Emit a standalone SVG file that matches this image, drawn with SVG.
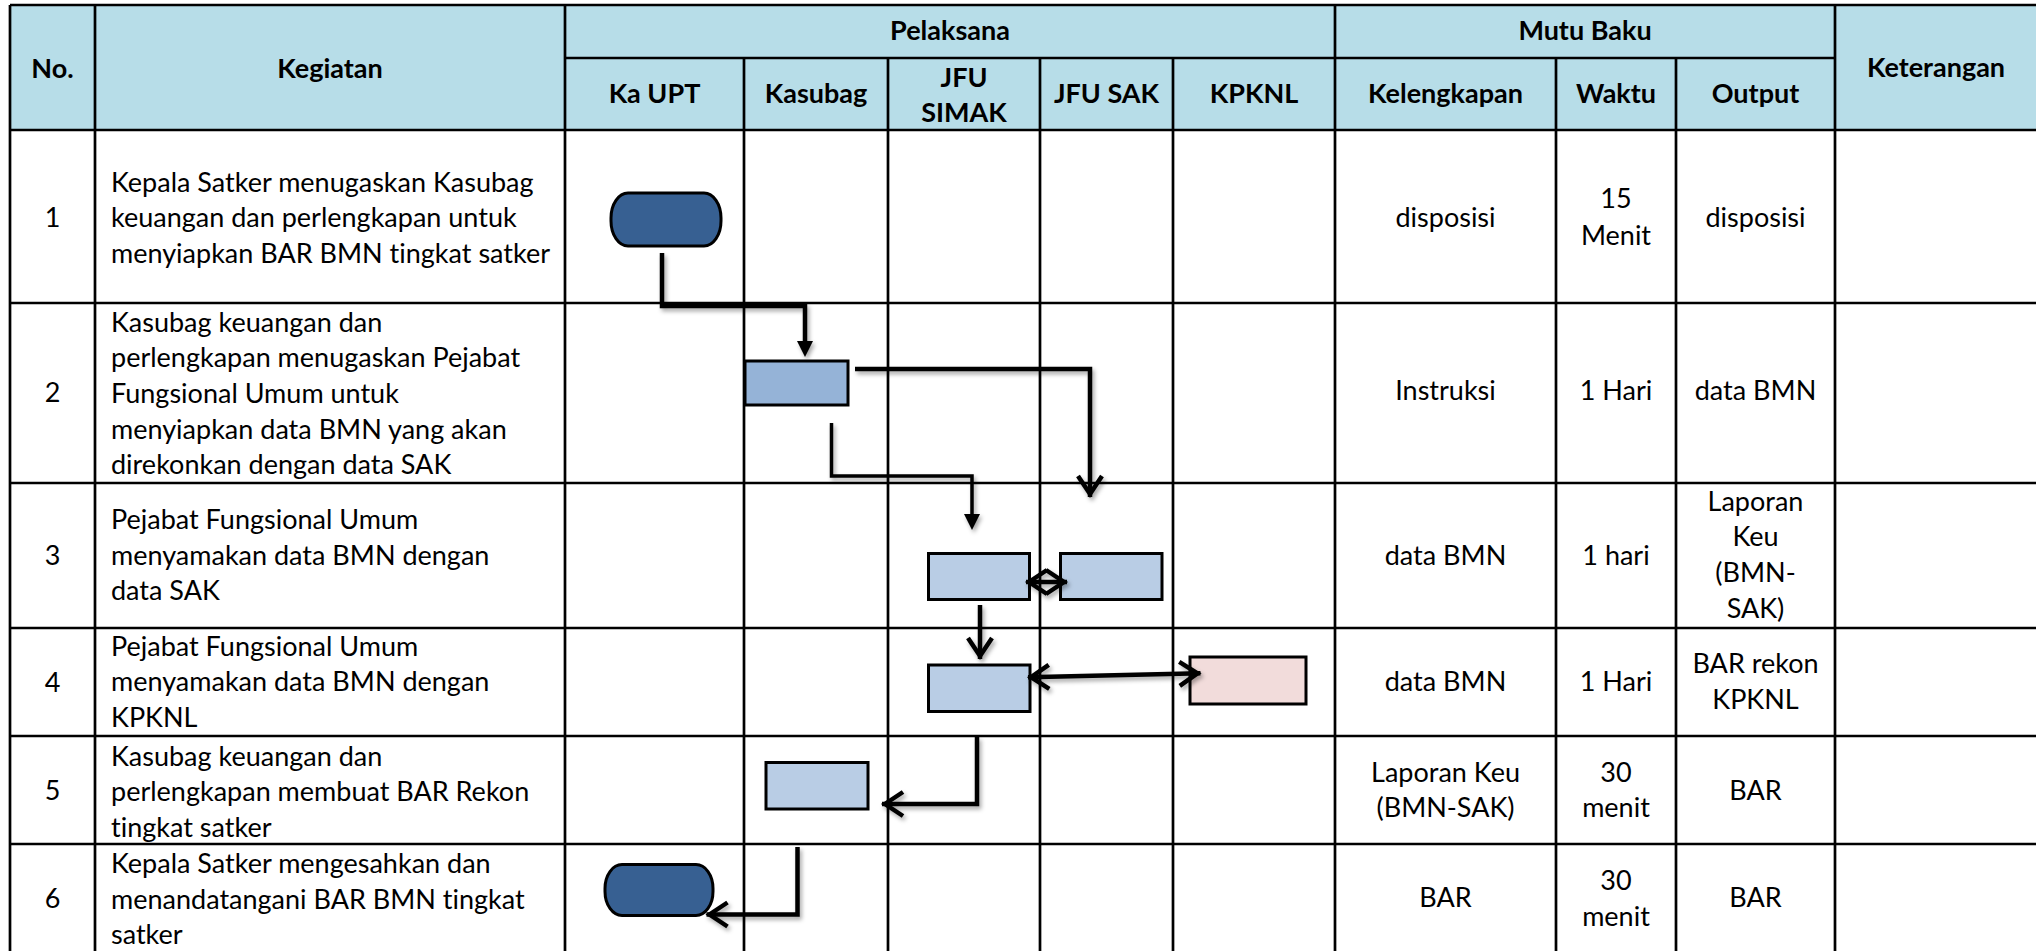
<svg xmlns="http://www.w3.org/2000/svg" width="2036" height="951" viewBox="0 0 2036 951">
  <style>
    text { font-family: Lato, "Open Sans", "Liberation Sans", sans-serif; font-size: 27px; fill: #000; font-variant-ligatures: none; font-feature-settings: "liga" 0; }
    .hd { font-weight: bold; text-anchor: middle; }
    .c { text-anchor: middle; }
    .grid { stroke: #000; stroke-width: 2.7; fill: none; }
    .term { fill: #376092; stroke: #000; stroke-width: 3; }
    .proc { fill: #B9CDE5; stroke: #000; stroke-width: 3; }
    .proc-mid { fill: #95B3D7; stroke: #000; stroke-width: 3; }
    .proc-ext { fill: #F2DCDB; stroke: #000; stroke-width: 3; }
    .conn { fill: none; stroke: #000; stroke-width: 4.5; stroke-linejoin: miter; }
    .conn-thin { fill: none; stroke: #000; stroke-width: 3.5; stroke-linejoin: miter; }
  </style>
  <defs>
    <marker id="solid" markerUnits="userSpaceOnUse" viewBox="-8 -8 16 16" markerWidth="16" markerHeight="16" refX="0" refY="0" orient="auto" overflow="visible">
      <path d="M-8,-8 L8,0 L-8,8 z" fill="#000"/>
    </marker>
    <marker id="open" markerUnits="userSpaceOnUse" viewBox="-24 -15 26 30" markerWidth="26" markerHeight="30" refX="0" refY="0" orient="auto-start-reverse" overflow="visible">
      <path d="M-21,-12 L-3,0 L-21,12" fill="none" stroke="#000" stroke-width="4.5"/>
    </marker>
    <filter id="shadow" filterUnits="userSpaceOnUse" x="0" y="0" width="2036" height="951">
      <feDropShadow dx="2" dy="3" stdDeviation="2" flood-color="#000" flood-opacity="0.35"/>
    </filter>
  </defs>

  <rect width="2036" height="951" fill="#fff"/>

  <!-- table header band -->
  <rect x="10" y="5" width="2030" height="125" fill="#B7DDE8"/>

  <!-- grid lines -->
  <g id="grid" class="grid">
    <path d="M10,5 H2040 M565,58 H1835 M10,130 H2040 M10,303 H2040 M10,483 H2040 M10,628 H2040 M10,736 H2040 M10,844 H2040"/>
    <path d="M10,5 V951 M95,5 V951 M565,5 V951 M1335,5 V951 M1835,5 V951"/>
    <path d="M744,58 V951 M888,58 V951 M1040,58 V951 M1173,58 V951 M1556,58 V951 M1676,58 V951"/>
  </g>

  <!-- header labels -->
  <g id="header">
    <text class="hd" x="52.5" y="78">No.</text>
    <text class="hd" x="330" y="78">Kegiatan</text>
    <text class="hd" x="950" y="40">Pelaksana</text>
    <text class="hd" x="1585" y="40">Mutu Baku</text>
    <text class="hd" x="1936" y="77">Keterangan</text>
    <text class="hd" x="654.5" y="103">Ka UPT</text>
    <text class="hd" x="816" y="103">Kasubag</text>
    <text class="hd" x="964" y="87">JFU</text>
    <text class="hd" x="964" y="122">SIMAK</text>
    <text class="hd" x="1106.5" y="103">JFU SAK</text>
    <text class="hd" x="1254" y="103">KPKNL</text>
    <text class="hd" x="1445.5" y="103">Kelengkapan</text>
    <text class="hd" x="1616" y="103">Waktu</text>
    <text class="hd" x="1755.5" y="103">Output</text>
  </g>

  <!-- step 1 -->
  <g id="row1">
    <text class="c" x="52.5" y="227">1</text>
    <text x="111" y="191.7">Kepala Satker menugaskan Kasubag</text>
    <text x="111" y="227.3">keuangan dan perlengkapan untuk</text>
    <text x="111" y="262.9">menyiapkan BAR BMN tingkat satker</text>
    <text class="c" x="1445.5" y="227">disposisi</text>
    <text class="c" x="1616" y="208.3">15</text>
    <text class="c" x="1616" y="245">Menit</text>
    <text class="c" x="1755.5" y="227">disposisi</text>
  </g>

  <!-- step 2 -->
  <g id="row2">
    <text class="c" x="52.5" y="401.7">2</text>
    <text x="111" y="331.7">Kasubag keuangan dan</text>
    <text x="111" y="367.3">perlengkapan menugaskan Pejabat</text>
    <text x="111" y="402.9">Fungsional Umum untuk</text>
    <text x="111" y="438.5">menyiapkan data BMN yang akan</text>
    <text x="111" y="474.1">direkonkan dengan data SAK</text>
    <text class="c" x="1445.5" y="400">Instruksi</text>
    <text class="c" x="1616" y="400">1 Hari</text>
    <text class="c" x="1755.5" y="400">data BMN</text>
  </g>

  <!-- step 3 -->
  <g id="row3">
    <text class="c" x="52.5" y="565">3</text>
    <text x="111" y="529">Pejabat Fungsional Umum</text>
    <text x="111" y="564.6">menyamakan data BMN dengan</text>
    <text x="111" y="600.2">data SAK</text>
    <text class="c" x="1445.5" y="565">data BMN</text>
    <text class="c" x="1616" y="565">1 hari</text>
    <text class="c" x="1755.5" y="510.7">Laporan</text>
    <text class="c" x="1755.5" y="546.3">Keu</text>
    <text class="c" x="1755.5" y="581.9">(BMN-</text>
    <text class="c" x="1755.5" y="617.5">SAK)</text>
  </g>

  <!-- step 4 -->
  <g id="row4">
    <text class="c" x="52.5" y="691.7">4</text>
    <text x="111" y="655.7">Pejabat Fungsional Umum</text>
    <text x="111" y="691.3">menyamakan data BMN dengan</text>
    <text x="111" y="726.9">KPKNL</text>
    <text class="c" x="1445.5" y="690.7">data BMN</text>
    <text class="c" x="1616" y="690.7">1 Hari</text>
    <text class="c" x="1755.5" y="673.3">BAR rekon</text>
    <text class="c" x="1755.5" y="708.9">KPKNL</text>
  </g>

  <!-- step 5 -->
  <g id="row5">
    <text class="c" x="52.5" y="800">5</text>
    <text x="111" y="765.5">Kasubag keuangan dan</text>
    <text x="111" y="801.1">perlengkapan membuat BAR Rekon</text>
    <text x="111" y="836.7">tingkat satker</text>
    <text class="c" x="1445.5" y="781.7">Laporan Keu</text>
    <text class="c" x="1445.5" y="817.3">(BMN-SAK)</text>
    <text class="c" x="1616" y="781.7">30</text>
    <text class="c" x="1616" y="817.3">menit</text>
    <text class="c" x="1755.5" y="799.5">BAR</text>
  </g>

  <!-- step 6 -->
  <g id="row6">
    <text class="c" x="52.5" y="908.3">6</text>
    <text x="111" y="873">Kepala Satker mengesahkan dan</text>
    <text x="111" y="908.6">menandatangani BAR BMN tingkat</text>
    <text x="111" y="944.2">satker</text>
    <text class="c" x="1445.5" y="907.3">BAR</text>
    <text class="c" x="1616" y="890">30</text>
    <text class="c" x="1616" y="925.6">menit</text>
    <text class="c" x="1755.5" y="907.3">BAR</text>
  </g>

  <!-- flow shapes -->
  <g id="n1-start"><rect class="term" x="611" y="193" width="110" height="53" rx="17" ry="25"/></g>
  <g id="n2-kasubag"><rect class="proc-mid" x="745" y="361" width="103" height="44"/></g>
  <g id="n3-simak"><rect class="proc" x="928.5" y="553.5" width="101" height="46"/></g>
  <g id="n3-sak"><rect class="proc" x="1060.5" y="553.5" width="101.5" height="46"/></g>
  <g id="n4-simak"><rect class="proc" x="928.5" y="665" width="101.5" height="46.5"/></g>
  <g id="n4-kpknl"><rect class="proc-ext" x="1190" y="657" width="116" height="47"/></g>
  <g id="n5-kasubag"><rect class="proc" x="766" y="762.5" width="102" height="46.5"/></g>
  <g id="n6-end"><rect class="term" x="605" y="864.5" width="108" height="51" rx="17" ry="24"/></g>

  <!-- connectors -->
  <g id="connectors" filter="url(#shadow)">
    <path class="conn" d="M662,253 V306 H805 V349" marker-end="url(#solid)"/>
    <path class="conn" d="M855,369 H1090 V497" marker-end="url(#open)"/>
    <path class="conn-thin" d="M831.5,423 V476 H972 V522" marker-end="url(#solid)"/>
    <path class="conn" d="M1026,582 H1067" marker-start="url(#open)" marker-end="url(#open)"/>
    <path class="conn" d="M980,605 V659" marker-end="url(#open)"/>
    <path class="conn" d="M1028,677.3 L1200.5,673.3" marker-start="url(#open)" marker-end="url(#open)"/>
    <path class="conn" d="M977,737 V804 H882" marker-end="url(#open)"/>
    <path class="conn" d="M797.5,847 V914.5 H706.5" marker-end="url(#open)"/>
  </g>
</svg>
